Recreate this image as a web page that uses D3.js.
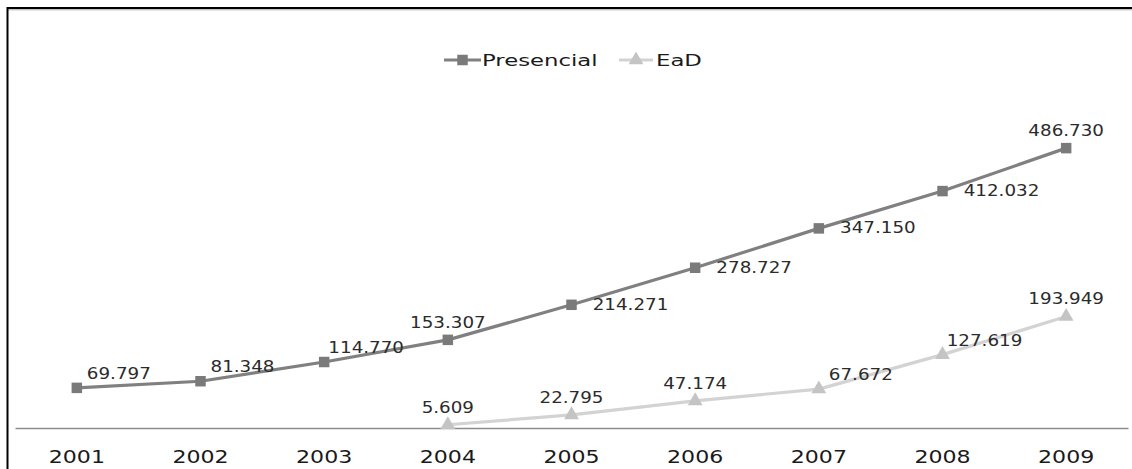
<!DOCTYPE html>
<html>
<head>
<meta charset="utf-8">
<script src="https://cdn.jsdelivr.net/npm/d3@7"></script>
<style>
  html, body { margin: 0; padding: 0; background: #fff; }
  svg { display: block; }
  text { font-family: "DejaVu Sans", Verdana, sans-serif; }
</style>
</head>
<body>
<svg id="chart" width="1132" height="469"></svg>
<script>
// Matrículas por ano: ensino presencial e a distância (EaD)
const years = ["2001", "2002", "2003", "2004", "2005", "2006", "2007", "2008", "2009"];
const presencial = [69.797, 81.348, 114.770, 153.307, 214.271, 278.727, 347.150, 412.032, 486.730];
const ead = [null, null, null, 5.609, 22.795, 47.174, 67.672, 127.619, 193.949];
// where each value label sits relative to its marker
const presencialLabelPos = ["aboveRight", "aboveRight", "aboveRight", "above", "right", "right", "right", "right", "above"];
const eadLabelPos = [null, null, null, "above", "above", "above", "aboveRight", "aboveRight", "above"];

const fmt = v => v.toFixed(3);

const svg = d3.select("#chart");
const W = 1132, H = 469;
// the text in this chart is set in a widened face
const STRETCH = 1.3;

// frame: black top and left rules with a thin grey inner edge
svg.append("line").attr("x1", 7).attr("x2", W).attr("y1", 8).attr("y2", 8)
  .attr("stroke", "#000").attr("stroke-width", 2);
svg.append("line").attr("x1", 8).attr("x2", W).attr("y1", 9.8).attr("y2", 9.8)
  .attr("stroke", "#aaa").attr("stroke-width", 1);
svg.append("line").attr("x1", 7.5).attr("x2", 7.5).attr("y1", 7).attr("y2", H)
  .attr("stroke", "#000").attr("stroke-width", 2);

const x = d3.scaleBand().domain(years).range([15, 1128]);
const y = d3.scaleLinear().domain([0, 600]).range([428, 83]);
const cx = d => x(d) + x.bandwidth() / 2;

// category axis
const axis = svg.append("g").attr("transform", `translate(0,${y(0)})`)
  .call(d3.axisBottom(x).tickSize(0).tickPadding(0));
axis.select(".domain").attr("stroke", "#8c8c8c").attr("stroke-width", 1.6);
axis.selectAll(".tick text")
  .attr("font-size", 17).attr("fill", "#1a1a1a")
  .attr("font-family", "DejaVu Sans, sans-serif")
  .attr("y", 0).attr("dy", 0)
  .attr("transform", `translate(0,35) scale(${STRETCH},1)`);

const series = [
  { name: "Presencial", values: presencial, pos: presencialLabelPos, line: "#808080", marker: "#7a7a7a", shape: "square" },
  { name: "EaD", values: ead, pos: eadLabelPos, line: "#d3d3d3", marker: "#c4c4c4", shape: "triangle" }
];

const lineGen = d3.line()
  .defined(d => d.v != null)
  .x(d => cx(d.year))
  .y(d => y(d.v));

const sym = {
  square: d3.symbol().type(d3.symbolSquare).size(110),
  triangle: d3.symbol().type(d3.symbolTriangle).size(95)
};

const offsets = {
  above: [0, -12],
  right: [59, 5],
  aboveRight: [42, -9]
};

series.forEach(s => {
  const pts = years.map((yr, i) => ({ year: yr, v: s.values[i], pos: s.pos[i] }));
  svg.append("path").datum(pts)
    .attr("d", lineGen)
    .attr("fill", "none")
    .attr("stroke", s.line)
    .attr("stroke-width", 3.2)
    .attr("stroke-linejoin", "round");

  const valid = pts.filter(d => d.v != null);
  svg.append("g").selectAll("path").data(valid).join("path")
    .attr("d", sym[s.shape])
    .attr("transform", d => `translate(${cx(d.year)},${y(d.v)})`)
    .attr("fill", s.marker);

  svg.append("g").selectAll("text").data(valid).join("text")
    .attr("transform", d => `translate(${cx(d.year) + offsets[d.pos][0]},${y(d.v) + offsets[d.pos][1]}) scale(1.22,1)`)
    .attr("text-anchor", "middle")
    .attr("font-size", 15)
    .attr("fill", "#2b2b2b")
    .text(d => fmt(d.v));
});

// legend
const legend = svg.append("g").attr("transform", "translate(0,60)");
const legendItems = [
  { s: series[0], x0: 444, x1: 481, tx: 482 },
  { s: series[1], x0: 619, x1: 653, tx: 656 }
];
legendItems.forEach(it => {
  legend.append("line").attr("x1", it.x0).attr("x2", it.x1).attr("y1", 0).attr("y2", 0)
    .attr("stroke", it.s.line).attr("stroke-width", 3.2);
  legend.append("path").attr("d", sym[it.s.shape])
    .attr("transform", `translate(${(it.x0 + it.x1) / 2},0)`)
    .attr("fill", it.s.marker);
  legend.append("text")
    .attr("transform", `translate(${it.tx},6) scale(1.38,1)`)
    .attr("font-size", 16.5).attr("fill", "#1a1a1a")
    .text(it.s.name);
});
</script>
</body>
</html>
